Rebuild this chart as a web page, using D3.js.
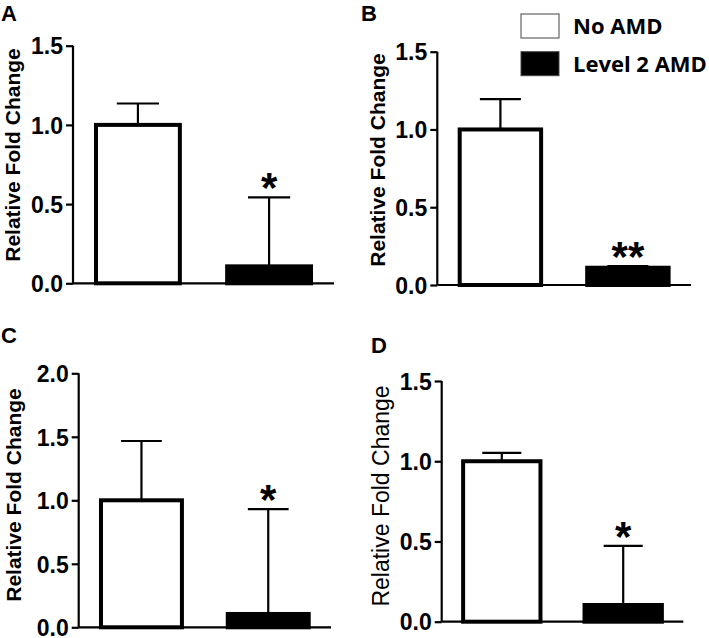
<!DOCTYPE html>
<html>
<head>
<meta charset="utf-8">
<script src="https://d3js.org/d3.v7.min.js"></script>
<style>
  body { margin: 0; background: #fff; }
  svg text { font-family: "Liberation Sans", Arial, sans-serif; }
  .tick text { font-weight: bold; font-size: 23px; }
  .legend text { font-family: "Open Sans", sans-serif; font-weight: bold; font-size: 22px; }
</style>
</head>
<body>
<div id="vis"></div>
<script>
// data
const groups = ["No AMD", "Level 2 AMD"];
const panelLetters = ["A", "B", "C", "D"];
const meanNoAMD = [1.0, 1.0, 1.0, 1.0];
const meanLevel2 = [0.107, 0.111, 0.105, 0.104];
const errNoAMD = [0.135, 0.195, 0.467, 0.052];
const errLevel2 = [0.435, 0.011, 0.825, 0.368];
const yMaxes = [1.5, 1.5, 2.0, 1.5];
const yTicks = [
    [0, 0.5, 1.0, 1.5],
    [0, 0.5, 1.0, 1.5],
    [0, 0.5, 1.0, 1.5, 2.0],
    [0, 0.5, 1.0, 1.5]
];
const stars = ["*", "**", "*", "*"];

// pixel boxes of each panel (axis left, axis right, y of top tick, y of zero)
const boxes = [
    {left: 73, right: 334, top: 45.7, bottom: 283.3, letterX: 1, letterY: 21, labelX: 20, labelY: 155, labelSize: 21, labelBold: true},
    {left: 437.3, right: 691, top: 51.7, bottom: 285, letterX: 361, letterY: 21, labelX: 385, labelY: 160, labelSize: 21, labelBold: true},
    {left: 78.7, right: 331, top: 373.3, bottom: 627.3, letterX: 1, letterY: 343, labelX: 21, labelY: 495, labelSize: 21, labelBold: true},
    {left: 441.7, right: 683.3, top: 381, bottom: 621.7, letterX: 371, letterY: 353, labelX: 389, labelY: 496, labelSize: 23, labelBold: false}
];

function init() {
    const svg = d3.select('#vis')
        .append('svg')
        .attr('width', 709)
        .attr('height', 638);

    panelLetters.forEach((letter, i) => drawPanel(svg, i));
    addLegend(svg);
}

function drawPanel(svg, i) {
    const b = boxes[i];
    const g = svg.append('g');

    const xScale = d3.scaleBand()
        .domain(groups)
        .range([b.left, b.right])
        .paddingInner(0.33)
        .paddingOuter(0.16);

    const yScale = d3.scaleLinear()
        .domain([0, yMaxes[i]])
        .range([b.bottom, b.top]);

    const yAxis = d3.axisLeft(yScale)
        .tickValues(yTicks[i])
        .tickFormat(d3.format('.1f'))
        .tickSize(7)
        .tickPadding(3);

    g.append('g')
        .attr('transform', `translate(${b.left},0)`)
        .call(yAxis)
        .call(ax => ax.selectAll('path, line').attr('stroke', '#000').attr('stroke-width', 2.2))
        .call(ax => ax.select('.domain').attr('d', `M0,${b.top}V${b.bottom}`))
        .call(ax => ax.selectAll('text').attr('fill', '#000').attr('dy', '0.36em'));

    // x axis baseline
    g.append('line')
        .attr('x1', b.left)
        .attr('x2', b.right)
        .attr('y1', b.bottom)
        .attr('y2', b.bottom)
        .attr('stroke', '#000')
        .attr('stroke-width', 2.2);

    const rows = groups.map((grp, j) => ({
        group: grp,
        mean: j == 0 ? meanNoAMD[i] : meanLevel2[i],
        err: j == 0 ? errNoAMD[i] : errLevel2[i],
        fill: j == 0 ? '#fff' : '#000'
    }));

    const sw = 4;
    const bw = xScale.bandwidth();

    // error bars (drawn first so the bar sits over the stem)
    rows.forEach(d => {
        const cx = xScale(d.group) + bw / 2;
        const capW = bw * 0.24;
        g.append('line')
            .attr('x1', cx).attr('x2', cx)
            .attr('y1', yScale(d.mean)).attr('y2', yScale(d.mean + d.err))
            .attr('stroke', '#000').attr('stroke-width', 2.2);
        g.append('line')
            .attr('x1', cx - capW).attr('x2', cx + capW)
            .attr('y1', yScale(d.mean + d.err)).attr('y2', yScale(d.mean + d.err))
            .attr('stroke', '#000').attr('stroke-width', 2.2);
    });

    g.selectAll('.bar')
        .data(rows)
        .join('rect')
        .attr('class', 'bar')
        .attr('x', d => xScale(d.group) + sw / 2)
        .attr('width', bw - sw)
        .attr('y', d => yScale(d.mean))
        .attr('height', d => yScale(0) - yScale(d.mean))
        .attr('fill', d => d.fill)
        .attr('stroke', '#000')
        .attr('stroke-width', sw);

    const r2 = rows[1];
    const cx2 = xScale(r2.group) + bw / 2;

    // significance star
    g.append('text')
        .attr('x', cx2)
        .attr('y', yScale(r2.mean + r2.err) + 5)
        .attr('text-anchor', 'middle')
        .style('font-size', '42px')
        .style('font-weight', 'bold')
        .text(stars[i]);

    // panel letter
    g.append('text')
        .attr('x', b.letterX)
        .attr('y', b.letterY)
        .style('font-size', '22px')
        .style('font-weight', 'bold')
        .text(panelLetters[i]);

    // y axis title
    g.append('text')
        .attr('transform', `translate(${b.labelX},${b.labelY}) rotate(-90)`)
        .attr('text-anchor', 'middle')
        .style('font-size', b.labelSize + 'px')
        .style('font-weight', b.labelBold ? 'bold' : 'normal')
        .text('Relative Fold Change');
}

function addLegend(svg) {
    const lg = svg.append('g').attr('class', 'legend');
    const fills = ['#fff', '#000'];
    const ys = [14, 51.7];

    lg.selectAll('rect')
        .data(groups)
        .join('rect')
        .attr('x', 521)
        .attr('y', (d, i) => ys[i])
        .attr('width', 38)
        .attr('height', 24)
        .attr('fill', (d, i) => fills[i])
        .attr('stroke', '#444')
        .attr('stroke-width', 1);

    lg.selectAll('text')
        .data(groups)
        .join('text')
        .attr('x', 573)
        .attr('y', (d, i) => ys[i] + 20)
        .text(d => d);
}

window.addEventListener('load', init);
</script>
</body>
</html>
